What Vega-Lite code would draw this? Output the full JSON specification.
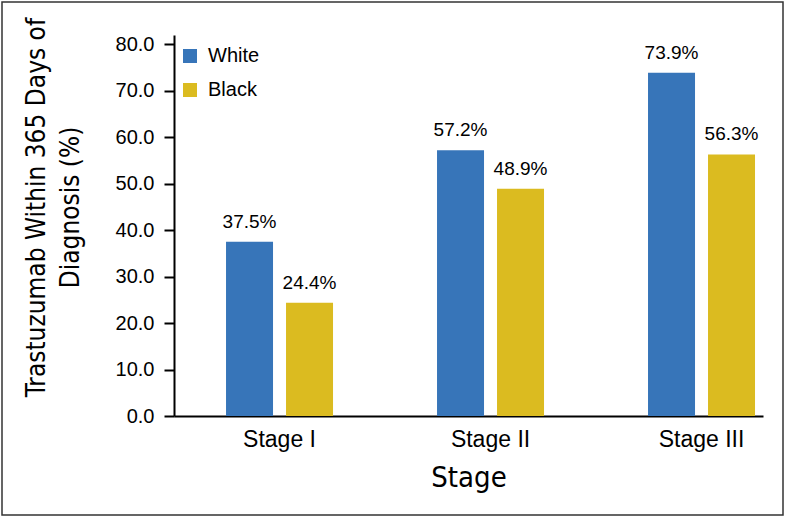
{
  "$schema": "https://vega.github.io/schema/vega-lite/v6.json",
  "width": 781,
  "height": 513,
  "autosize": {"type": "none"},
  "padding": {"left": 2, "top": 2, "right": 3, "bottom": 1},
  "background": "white",
  "config": {
    "view": {"stroke": "#333333", "strokeWidth": 1.5},
    "font": "Liberation Sans"
  },
  "data": {
    "values": [
      {"stage": "Stage I", "race": "White", "pct": 37.5},
      {"stage": "Stage I", "race": "Black", "pct": 24.4},
      {"stage": "Stage II", "race": "White", "pct": 57.2},
      {"stage": "Stage II", "race": "Black", "pct": 48.9},
      {"stage": "Stage III", "race": "White", "pct": 73.9},
      {"stage": "Stage III", "race": "Black", "pct": 56.3}
    ]
  },
  "transform": [
    {"calculate": "format(datum.pct, '.1f') + '%'", "as": "label"}
  ],
  "encoding": {
    "x": {
      "field": "stage",
      "type": "nominal",
      "sort": ["Stage I", "Stage II", "Stage III"],
      "scale": {"range": [172, 761], "paddingInner": 0.4929, "paddingOuter": 0.1422, "align": 0.867},
      "axis": {
        "title": "Stage",
        "orient": "bottom",
        "offset": -99,
        "ticks": false,
        "grid": false,
        "labelAngle": 0,
        "domainColor": "black",
        "domainWidth": 2,
        "labelFontSize": 23,
        "labelPadding": 12,
        "labelColor": "black",
        "titleFontSize": 29,
        "titleFont": "Liberation Sans Narrow, DejaVu Sans Condensed, sans-serif",
        "titleFontWeight": "normal",
        "titleColor": "black",
        "titlePadding": 12
      }
    },
    "xOffset": {
      "field": "race",
      "type": "nominal",
      "sort": ["White", "Black"],
      "scale": {"paddingInner": 0.2167, "paddingOuter": 0}
    },
    "y": {
      "field": "pct",
      "type": "quantitative",
      "scale": {"domain": [0, 82], "range": [414, 33], "nice": false, "zero": true},
      "axis": {
        "title": ["Trastuzumab Within 365 Days of", "Diagnosis (%)"],
        "offset": -172,
        "values": [0, 10, 20, 30, 40, 50, 60, 70, 80],
        "format": ".1f",
        "grid": false,
        "domainColor": "black",
        "domainWidth": 2,
        "tickColor": "black",
        "tickWidth": 2,
        "tickSize": 10,
        "labelFontSize": 20,
        "labelPadding": 10,
        "labelColor": "black",
        "titleFontSize": 26,
        "titleFont": "Liberation Sans Narrow, DejaVu Sans Condensed, sans-serif",
        "titleFontWeight": "normal",
        "titleLineHeight": 34,
        "titleColor": "black",
        "titleY": 205,
        "titlePadding": 32
      }
    }
  },
  "layer": [
    {
      "mark": {"type": "bar"},
      "encoding": {
        "color": {
          "field": "race",
          "type": "nominal",
          "scale": {"domain": ["White", "Black"], "range": ["#3775b9", "#dbbb20"]},
          "legend": {
            "orient": "none",
            "legendX": 178,
            "legendY": 44,
            "title": null,
            "symbolType": "square",
            "symbolSize": 196,
            "symbolStrokeWidth": 0,
            "labelFontSize": 20,
            "labelOffset": 8,
            "labelColor": "black",
            "rowPadding": 14,
            "padding": 0
          }
        }
      }
    },
    {
      "mark": {"type": "text", "baseline": "bottom", "dy": -10, "fontSize": 19, "color": "black"},
      "encoding": {"text": {"field": "label"}}
    }
  ]
}
